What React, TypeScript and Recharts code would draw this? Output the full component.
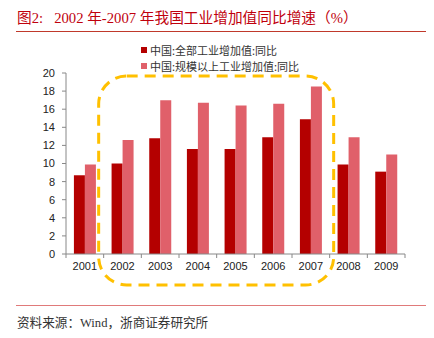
import { BarChart, Bar, XAxis, YAxis, ReferenceArea } from 'recharts'

const years = ['2001', '2002', '2003', '2004', '2005', '2006', '2007', '2008', '2009']
const allIndustry = [8.7, 10.0, 12.8, 11.6, 11.6, 12.9, 14.9, 9.9, 9.1]
const aboveScale = [9.9, 12.6, 17.0, 16.7, 16.4, 16.6, 18.5, 12.9, 11.0]
const yTicks = [0, 2, 4, 6, 8, 10, 12, 14, 16, 18, 20]

const seriesNames = ['中国:全部工业增加值:同比', '中国:规模以上工业增加值:同比']
const colors = ['#B40000', '#E0606A']

const data = years.map((year, i) => ({
  year,
  all: allIndustry[i],
  above: aboveScale[i],
}))

const PLOT_LEFT = 66
const PLOT_RIGHT = 405
const BAND = (PLOT_RIGHT - PLOT_LEFT) / years.length

const serif = '"Liberation Serif", "Noto Sans CJK SC", serif'
const sans = '"Liberation Sans", Arial, sans-serif'

const YearTick = (props: any) => {
  const { x, y, payload, index } = props
  const axisY = y - 8
  return (
    <g>
      <line x1={x - BAND / 2} y1={axisY} x2={x - BAND / 2} y2={axisY + 4} stroke="#888" />
      {index === years.length - 1 && (
        <line x1={x + BAND / 2} y1={axisY} x2={x + BAND / 2} y2={axisY + 4} stroke="#888" />
      )}
      <text x={x} y={y} dy="0.71em" textAnchor="middle" fill="#222" fontSize={11} fontFamily={sans}>
        {payload.value}
      </text>
    </g>
  )
}

// dashed rounded frame round the 2002-2007 bars
const Frame = (props: any) => {
  const { x, y, width, height } = props
  return (
    <rect
      x={x - 5}
      y={y + 3}
      width={width + 9}
      height={height + 28}
      rx={28}
      ry={28}
      fill="none"
      stroke="#FFC000"
      strokeWidth={3}
      strokeDasharray="11 7"
    />
  )
}

export default function App() {
  return (
    <div style={{ position: 'fixed', top: 0, left: 0, width: 434, height: 338, background: '#fff' }}>
      <div
        style={{
          position: 'absolute',
          left: 17,
          top: 9,
          fontFamily: serif,
          fontSize: 14.7,
          color: '#C0000C',
          whiteSpace: 'pre',
          lineHeight: '18px',
        }}
      >
        {'图2:   2002 年-2007 年我国工业增加值同比增速（%）'}
      </div>
      <div style={{ position: 'absolute', left: 16, top: 31, width: 410, height: 1, background: '#C0392B' }} />

      <div style={{ position: 'absolute', left: 141, top: 42, fontFamily: '"Noto Sans CJK SC", sans-serif', fontSize: 11, color: '#333' }}>
        {seriesNames.map((name, i) => (
          <div key={name} style={{ display: 'flex', alignItems: 'center', height: 16 }}>
            <span style={{ display: 'inline-block', width: 6, height: 6, background: colors[i], marginRight: 3 }} />
            {name}
          </div>
        ))}
      </div>

      <BarChart
        width={434}
        height={338}
        data={data}
        margin={{ top: 73, right: 434 - PLOT_RIGHT, left: PLOT_LEFT - 40, bottom: 54 }}
        barCategoryGap="21%"
        barGap={0}
        style={{ position: 'absolute', top: 0, left: 0 }}
      >
        <XAxis
          dataKey="year"
          height={30}
          stroke="#888"
          tickLine={false}
          tick={<YearTick />}
          interval={0}
        />
        <YAxis
          width={40}
          domain={[0, 20]}
          ticks={yTicks}
          interval={0}
          stroke="#888"
          tickSize={4}
          tickMargin={7}
          tick={{ fill: '#222', fontSize: 11, fontFamily: sans }}
        />
        <Bar dataKey="all" fill={colors[0]} isAnimationActive={false} />
        <Bar dataKey="above" fill={colors[1]} isAnimationActive={false} />
        <ReferenceArea x1="2002" x2="2007" y1={0} y2={20} ifOverflow="visible" shape={<Frame />} />
      </BarChart>

      <div style={{ position: 'absolute', left: 16, top: 305, width: 410, height: 1, background: '#E07A7A' }} />
      <div
        style={{
          position: 'absolute',
          left: 17,
          top: 312,
          fontFamily: serif,
          fontSize: 12.6,
          color: '#333',
          whiteSpace: 'pre',
        }}
      >
        {'资料来源：Wind，浙商证券研究所'}
      </div>
    </div>
  )
}
